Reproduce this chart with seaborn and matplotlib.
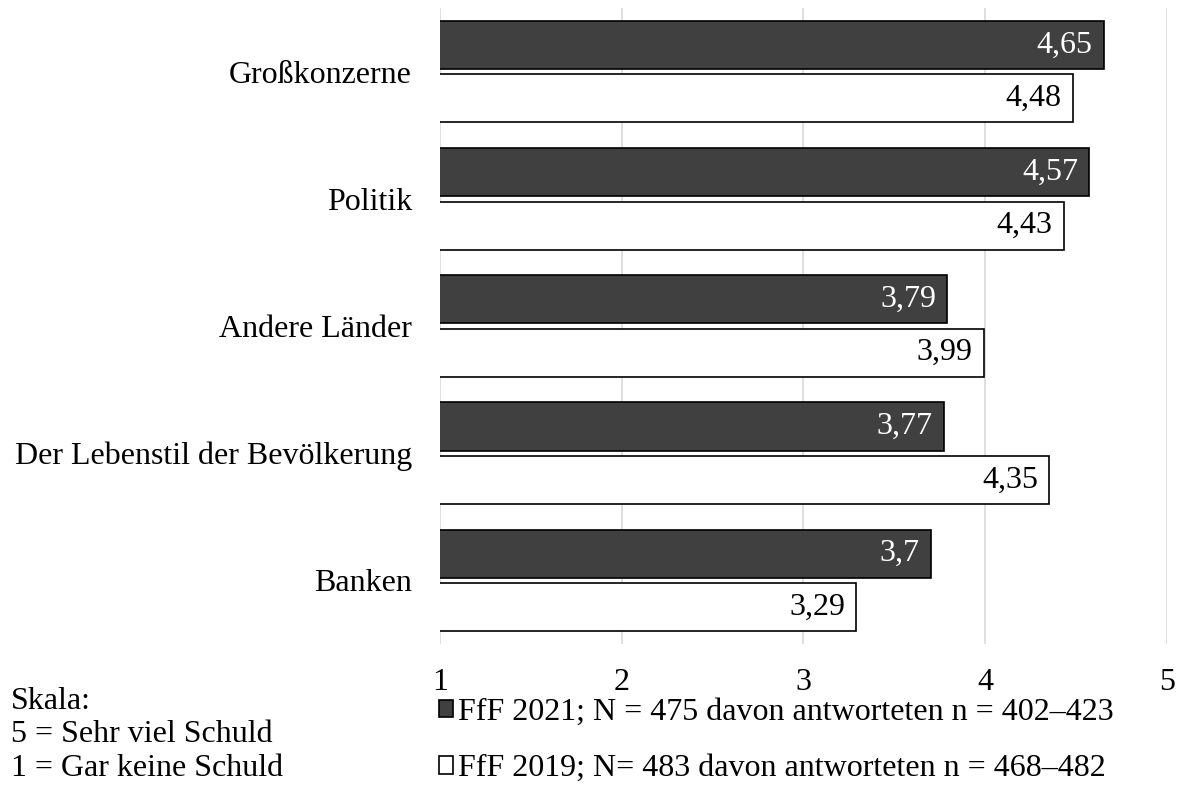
import numpy as np
import pandas as pd
import matplotlib.pyplot as plt
import seaborn as sns

kategorien = ['Großkonzerne', 'Politik', 'Andere Länder', 'Der Lebenstil der Bevölkerung', 'Banken']
werte_2021 = [4.65, 4.57, 3.79, 3.77, 3.7]
werte_2019 = [4.48, 4.43, 3.99, 4.35, 3.29]
serie_2021 = 'FfF 2021; N = 475 davon antworteten n = 402–423'
serie_2019 = 'FfF 2019; N= 483 davon antworteten n = 468–482'
x_ticks = [1, 2, 3, 4, 5]

df = pd.DataFrame({
    'Kategorie': kategorien * 2,
    'Serie': [serie_2021] * len(kategorien) + [serie_2019] * len(kategorien),
    'Wert': werte_2021 + werte_2019,
})

sns.set_theme(style='white')
plt.rcParams['font.family'] = ['Liberation Serif', 'DejaVu Serif']
plt.rcParams['text.color'] = 'black'
plt.rcParams['xtick.color'] = 'black'
plt.rcParams['ytick.color'] = 'black'
fs = 23

fig = plt.figure(figsize=(11.79, 8.09), dpi=100)
ax = fig.add_axes([0.373, 0.204, 0.617, 0.786])

sns.barplot(data=df, y='Kategorie', x='Wert', hue='Serie', orient='h',
            palette=['#404040', 'white'], edgecolor='black', linewidth=1.2,
            width=0.84, gap=0.1, ax=ax)

ax.set_xlim(1, 5)
ax.set_xticks(x_ticks)
ax.set_xticklabels([str(t) for t in x_ticks], fontsize=fs)
ax.tick_params(axis='x', length=0, pad=17)
ax.tick_params(axis='y', length=0, pad=20, labelsize=fs)
ax.set_xlabel('')
ax.set_ylabel('')
ax.grid(axis='x', color='#d9d9d9', linewidth=1.2)
ax.set_axisbelow(True)
for s in ax.spines.values():
    s.set_visible(False)

farben = ['white', 'black']
for cont, farbe in zip(ax.containers, farben):
    for p in cont:
        w = p.get_width()
        ax.text(w - 0.06, p.get_y() + p.get_height() / 2, f'{w:g}'.replace('.', ','),
                ha='right', va='center', color=farbe, fontsize=fs)

sns.move_legend(ax, loc='upper left', bbox_to_anchor=(0.372, 0.137), bbox_transform=fig.transFigure,
                frameon=False, title=None, fontsize=fs, handlelength=0.45, handleheight=0.45,
                handletextpad=0.15, labelspacing=0.85, borderpad=0, borderaxespad=0)

fig.text(0.009, 0.0915, 'Skala:\n5 = Sehr viel Schuld\n1 = Gar keine Schuld',
         fontsize=fs, va='center', ha='left', linespacing=1.2)

fig.savefig('out.png', dpi=100)
